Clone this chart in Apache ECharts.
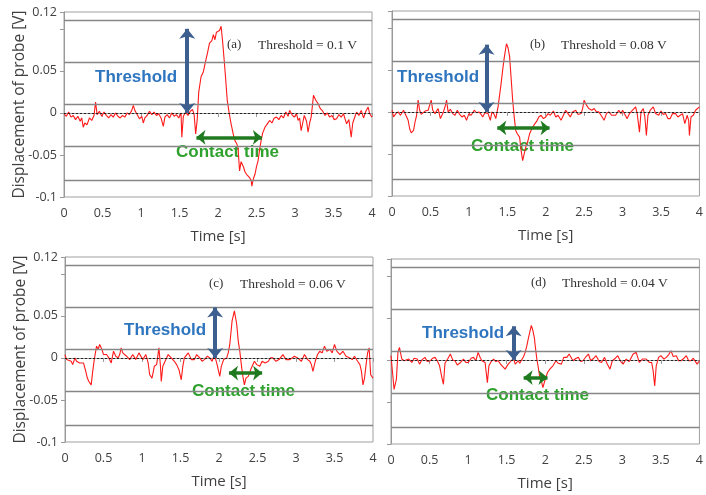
<!DOCTYPE html>
<html>
<head>
<meta charset="utf-8">
<title>Probe displacement</title>
<script src="https://cdn.jsdelivr.net/npm/echarts@6/dist/echarts.min.js"></script>
<style>
    html, body {margin: 0; padding: 0; background: #fff;}
    #chart {width: 706px; height: 495px;}
</style>
</head>
<body>
<div id="chart"></div>
<script>
//----------------------------------------------------------------------------------------------------------------
// 数据：四个面板的探头位移 [时间 s, 位移 V]
var traceA = [
    [0,-0.001],[0.03,-0.004],[0.06,0.001],[0.09,-0.005],[0.12,-0.003],[0.15,-0.008],[0.18,-0.004],[0.21,-0.010],[0.23,-0.006],[0.25,-0.017],
    [0.27,-0.012],[0.30,-0.014],[0.33,-0.006],[0.36,-0.009],[0.39,-0.003],[0.41,0.013],[0.43,-0.002],[0.46,0.002],[0.49,-0.004],[0.52,0.001],
    [0.55,-0.003],[0.58,-0.006],[0.61,-0.002],[0.64,-0.005],[0.67,0.000],[0.70,-0.004],[0.73,-0.006],[0.76,-0.003],[0.79,-0.005],[0.82,0.000],
    [0.85,-0.002],[0.88,0.003],[0.90,0.009],[0.92,0.003],[0.95,-0.002],[0.98,-0.007],[1.01,-0.004],[1.03,-0.012],[1.05,-0.006],[1.08,-0.003],
    [1.11,0.002],[1.14,-0.002],[1.17,0.001],[1.20,-0.003],[1.23,-0.001],[1.26,-0.006],[1.29,-0.016],[1.31,-0.005],[1.34,-0.002],[1.37,-0.006],
    [1.40,0.000],[1.43,-0.004],[1.46,-0.002],[1.49,-0.006],[1.52,0.000],[1.53,-0.029],[1.55,-0.004],[1.58,0.001],[1.61,-0.003],[1.64,0.002],
    [1.67,0.004],[1.69,-0.002],[1.71,-0.025],[1.73,-0.008],[1.75,0.025],[1.78,0.043],[1.81,0.049],[1.84,0.062],[1.86,0.070],[1.89,0.083],
    [1.92,0.086],[1.94,0.093],[1.96,0.087],[1.98,0.096],[2.00,0.094],[2.02,0.098],[2.04,0.103],[2.06,0.085],[2.08,0.063],[2.10,0.040],
    [2.12,0.015],[2.15,-0.003],[2.17,-0.013],[2.20,-0.026],[2.22,-0.033],[2.24,-0.036],[2.26,-0.041],[2.28,-0.069],[2.30,-0.058],[2.33,-0.064],
    [2.35,-0.070],[2.37,-0.073],[2.39,-0.071],[2.41,-0.077],[2.43,-0.080],[2.44,-0.087],[2.46,-0.078],[2.48,-0.073],[2.50,-0.064],[2.52,-0.057],
    [2.54,-0.044],[2.56,-0.033],[2.58,-0.024],[2.61,-0.017],[2.64,-0.013],[2.67,-0.009],[2.70,-0.012],[2.73,-0.006],[2.76,-0.005],[2.79,-0.008],
    [2.82,-0.003],[2.85,-0.006],[2.88,0.001],[2.91,-0.004],[2.93,0.003],[2.96,-0.002],[2.99,-0.005],[3.02,-0.001],[3.04,-0.009],[3.06,-0.006],
    [3.08,-0.021],[3.10,-0.012],[3.12,-0.003],[3.15,-0.010],[3.17,-0.023],[3.19,-0.012],[3.21,-0.005],[3.23,0.012],[3.24,0.021],[3.27,0.015],
    [3.30,0.011],[3.33,0.005],[3.36,0.002],[3.39,-0.003],[3.42,0.000],[3.45,-0.005],[3.48,-0.003],[3.51,-0.008],[3.54,-0.007],[3.57,-0.002],
    [3.60,-0.005],[3.63,-0.001],[3.65,-0.007],[3.67,-0.013],[3.70,-0.008],[3.73,-0.029],[3.75,-0.012],[3.78,-0.004],[3.80,0.001],[3.83,-0.003],
    [3.86,0.003],[3.89,-0.006],[3.92,0.002],[3.95,0.007],[3.97,-0.001],[4.00,-0.005]
];

var traceB = [
    [0,0.002],[0.02,-0.006],[0.05,-0.002],[0.08,0.000],[0.11,-0.004],[0.15,0.002],[0.18,-0.004],[0.21,-0.010],[0.23,-0.020],[0.25,-0.025],
    [0.28,-0.022],[0.30,-0.012],[0.32,-0.004],[0.34,0.014],[0.36,0.002],[0.38,-0.003],[0.40,-0.004],[0.43,0.001],[0.47,0.002],[0.49,0.008],
    [0.51,0.014],[0.53,0.002],[0.56,-0.002],[0.60,0.004],[0.63,-0.008],[0.66,-0.002],[0.69,0.006],[0.71,0.014],[0.73,0.000],[0.76,0.003],
    [0.79,-0.002],[0.82,-0.004],[0.85,0.002],[0.88,-0.003],[0.91,-0.006],[0.94,-0.004],[0.97,-0.010],[1.00,-0.002],[1.03,-0.004],[1.07,0.002],
    [1.10,-0.001],[1.13,0.000],[1.16,-0.003],[1.18,-0.006],[1.21,-0.001],[1.25,-0.002],[1.28,-0.010],[1.30,0.000],[1.33,-0.003],[1.35,-0.008],
    [1.38,0.006],[1.40,0.020],[1.42,0.034],[1.44,0.050],[1.46,0.064],[1.48,0.076],[1.49,0.081],[1.51,0.076],[1.53,0.066],[1.55,0.040],
    [1.57,0.014],[1.59,-0.006],[1.61,-0.022],[1.63,-0.026],[1.66,-0.030],[1.68,-0.046],[1.70,-0.058],[1.72,-0.050],[1.74,-0.042],[1.77,-0.034],
    [1.79,-0.026],[1.81,-0.022],[1.83,-0.018],[1.86,-0.014],[1.89,-0.010],[1.91,-0.006],[1.94,-0.004],[1.97,-0.008],[2.00,-0.006],[2.03,-0.002],
    [2.06,-0.004],[2.10,0.001],[2.13,-0.006],[2.16,-0.004],[2.20,-0.010],[2.23,-0.004],[2.26,0.002],[2.29,-0.002],[2.32,-0.006],[2.35,0.000],
    [2.39,0.002],[2.42,-0.003],[2.46,-0.002],[2.48,0.004],[2.50,0.014],[2.53,0.008],[2.56,0.004],[2.60,0.002],[2.63,0.004],[2.66,0.000],
    [2.69,0.000],[2.72,-0.004],[2.76,-0.010],[2.79,-0.002],[2.82,0.000],[2.86,-0.004],[2.91,-0.004],[2.95,0.002],[2.98,-0.002],[3.00,0.002],
    [3.03,-0.003],[3.06,-0.008],[3.09,-0.002],[3.13,0.002],[3.17,0.006],[3.19,-0.002],[3.22,-0.024],[3.24,0.000],[3.27,0.004],[3.29,-0.006],
    [3.31,-0.028],[3.33,-0.004],[3.36,0.002],[3.40,0.006],[3.43,-0.002],[3.47,-0.004],[3.50,0.001],[3.53,-0.003],[3.56,-0.002],[3.59,-0.008],
    [3.62,-0.008],[3.65,-0.002],[3.69,-0.002],[3.72,-0.006],[3.75,-0.004],[3.78,-0.002],[3.81,-0.014],[3.84,-0.004],[3.86,-0.010],[3.87,-0.028],
    [3.89,-0.006],[3.92,-0.004],[3.95,0.002],[3.97,0.004],[4.00,0.006]
];

var traceC = [
    [0,0.004],[0.02,-0.002],[0.04,-0.004],[0.08,-0.004],[0.10,-0.008],[0.13,0.000],[0.15,-0.004],[0.17,-0.002],[0.19,-0.006],[0.21,-0.008],
    [0.24,-0.006],[0.27,-0.016],[0.29,-0.024],[0.31,-0.028],[0.34,-0.032],[0.36,-0.016],[0.38,-0.002],[0.41,0.014],[0.43,0.010],[0.45,0.016],
    [0.48,0.010],[0.50,0.004],[0.54,0.004],[0.57,0.000],[0.60,-0.006],[0.63,0.008],[0.66,0.002],[0.69,0.000],[0.71,0.004],[0.73,0.012],
    [0.75,0.006],[0.77,0.006],[0.80,0.002],[0.84,-0.002],[0.88,0.004],[0.92,-0.002],[0.96,0.006],[1.01,-0.002],[1.05,0.004],[1.08,-0.006],
    [1.10,-0.020],[1.13,-0.024],[1.16,-0.010],[1.19,-0.008],[1.22,0.012],[1.24,-0.010],[1.25,-0.028],[1.27,-0.010],[1.30,-0.004],[1.34,0.004],
    [1.38,0.000],[1.42,-0.004],[1.45,-0.008],[1.48,-0.014],[1.51,-0.026],[1.53,-0.010],[1.55,0.000],[1.60,0.006],[1.64,-0.002],[1.68,-0.002],
    [1.71,0.004],[1.75,0.000],[1.78,-0.004],[1.81,-0.002],[1.85,0.002],[1.88,0.000],[1.91,-0.004],[1.94,0.004],[1.97,-0.006],[2.01,-0.022],
    [2.03,-0.010],[2.06,-0.002],[2.10,0.000],[2.12,0.006],[2.14,0.016],[2.17,0.044],[2.20,0.056],[2.23,0.040],[2.25,0.020],[2.27,0.008],
    [2.29,-0.008],[2.31,-0.022],[2.33,-0.032],[2.35,-0.024],[2.38,-0.022],[2.42,-0.012],[2.46,-0.004],[2.49,-0.008],[2.53,-0.010],[2.56,-0.004],
    [2.60,-0.006],[2.64,-0.004],[2.67,0.000],[2.70,0.000],[2.74,-0.004],[2.78,-0.002],[2.83,0.004],[2.87,-0.002],[2.92,-0.002],[2.98,0.002],
    [3.02,0.000],[3.07,-0.004],[3.11,0.004],[3.15,-0.002],[3.18,-0.004],[3.20,-0.008],[3.22,-0.016],[3.25,-0.004],[3.28,0.004],[3.31,0.008],
    [3.34,0.006],[3.37,0.014],[3.40,0.008],[3.44,0.010],[3.47,0.006],[3.50,0.016],[3.53,0.008],[3.57,0.004],[3.61,0.008],[3.65,0.002],
    [3.70,0.000],[3.73,-0.002],[3.76,0.002],[3.80,-0.004],[3.83,-0.008],[3.85,-0.016],[3.87,-0.032],[3.89,-0.024],[3.91,-0.008],[3.93,0.006],
    [3.95,0.012],[3.97,-0.020],[4.00,-0.024]
];

var traceD = [
    [0,0.005],[0.02,-0.015],[0.04,-0.035],[0.07,-0.023],[0.09,0.009],[0.11,0.015],[0.14,0.001],[0.17,-0.001],[0.19,-0.003],[0.23,0.001],
    [0.27,-0.003],[0.30,0.002],[0.34,0.001],[0.37,-0.005],[0.40,0.000],[0.44,0.003],[0.47,-0.002],[0.51,-0.001],[0.54,0.002],[0.57,0.003],
    [0.60,-0.001],[0.63,-0.007],[0.66,-0.021],[0.68,-0.029],[0.70,-0.004],[0.74,0.002],[0.77,0.007],[0.80,0.000],[0.83,-0.001],[0.86,-0.006],
    [0.89,-0.004],[0.94,0.001],[0.97,-0.003],[1.00,-0.003],[1.04,0.002],[1.07,0.003],[1.10,-0.001],[1.13,0.009],[1.16,0.002],[1.18,-0.001],
    [1.22,-0.003],[1.25,-0.027],[1.27,-0.007],[1.30,-0.002],[1.33,0.001],[1.36,-0.002],[1.39,-0.001],[1.42,-0.005],[1.44,-0.007],[1.48,-0.011],
    [1.52,-0.005],[1.56,-0.001],[1.59,0.002],[1.61,-0.005],[1.63,-0.003],[1.65,-0.001],[1.67,-0.004],[1.69,-0.003],[1.72,0.004],[1.74,0.009],
    [1.76,0.016],[1.78,0.025],[1.80,0.033],[1.82,0.041],[1.84,0.035],[1.86,0.026],[1.87,0.017],[1.89,0.002],[1.91,-0.009],[1.93,-0.021],
    [1.95,-0.025],[1.97,-0.033],[2.00,-0.023],[2.03,-0.015],[2.06,-0.011],[2.10,-0.007],[2.14,-0.001],[2.17,-0.004],[2.21,-0.005],[2.24,0.003],
    [2.28,0.003],[2.31,0.007],[2.36,-0.001],[2.40,0.002],[2.43,0.003],[2.46,-0.002],[2.49,-0.001],[2.53,0.004],[2.56,0.007],[2.59,-0.001],
    [2.63,0.002],[2.66,0.005],[2.70,-0.002],[2.73,-0.003],[2.77,0.003],[2.80,-0.004],[2.84,-0.011],[2.87,-0.001],[2.91,0.002],[2.94,0.005],
    [2.98,-0.002],[3.01,-0.005],[3.05,0.001],[3.09,-0.002],[3.14,0.007],[3.18,0.009],[3.22,-0.003],[3.26,0.001],[3.31,0.001],[3.35,-0.003],
    [3.38,-0.003],[3.40,-0.013],[3.42,-0.031],[3.44,-0.007],[3.47,0.003],[3.50,0.005],[3.54,0.001],[3.57,0.003],[3.60,0.006],[3.63,0.011],
    [3.66,0.004],[3.70,0.005],[3.73,-0.001],[3.76,-0.001],[3.80,0.002],[3.83,0.005],[3.86,-0.001],[3.89,-0.001],[3.92,0.002],[3.94,0.003],
    [3.97,-0.005],[4.00,-0.001]
];

// 各面板的阈值与箭头位置
var panelTags = ['(a)', '(b)', '(c)', '(d)'];
var thresholds = [0.1, 0.08, 0.06, 0.04];
var thresholdX = [1.6, 1.23, 1.95, 1.59];
var contactStart = [1.72, 1.37, 2.13, 1.72];
var contactEnd = [2.57, 2.05, 2.56, 2.03];
var contactY = [-0.029, -0.019, -0.018, -0.021];

// 背景灰色水平线
var bandLines = [0.106, 0.059, 0.012, -0.035, -0.082];
//----------------------------------------------------------------------------------------------------------------

var traces = [traceA, traceB, traceC, traceD];

// 面板位置（像素）
var grids = [
    {left: 64, top: 12, width: 308, height: 185},
    {left: 392, top: 11, width: 309, height: 185},
    {left: 65, top: 257, width: 308, height: 185},
    {left: 391, top: 259, width: 309, height: 185}
];

// 文字位置（像素）
var tagPos = [[227, 46], [530, 46], [209, 285], [531, 284]];
var thresholdLabelPos = [[95, 79], [397, 79], [124, 332], [422, 335]];
var contactLabelPos = [[176, 154], [471, 148], [192, 393], [486, 397]];

var axisFont = 'Open Sans, Noto Sans, sans-serif';
var textColor = '#404040';

/*
* x 轴：时间
* */
function buildXAxis(i) {
    return {
        type: 'value',
        gridIndex: i,
        min: 0,
        max: 4,
        interval: 0.5,
        name: 'Time [s]',
        nameLocation: 'middle',
        nameGap: 32,
        nameMoveOverlap: false,
        nameTextStyle: {fontFamily: axisFont, fontSize: 15, color: textColor},
        axisLine: {show: true, lineStyle: {color: '#999'}},
        axisTick: {show: true, length: 4, lineStyle: {color: '#999'}},
        axisLabel: {fontFamily: axisFont, fontSize: 12.5, color: textColor, margin: 10},
        splitLine: {show: false}
    };
}

/*
* y 轴：位移
* */
function buildYAxis(i) {
    var showLabel = (i === 0 || i === 2);
    return {
        type: 'value',
        gridIndex: i,
        min: -0.1,
        max: 0.12,
        interval: 0.05,
        name: showLabel ? 'Displacement of probe [V]' : '',
        nameLocation: 'middle',
        nameGap: 36,
        nameMoveOverlap: false,
        nameTextStyle: {fontFamily: axisFont, fontSize: 15.5, color: textColor},
        axisLine: {show: true, lineStyle: {color: '#999'}},
        axisTick: {show: true, length: 4, lineStyle: {color: '#999'}},
        axisLabel: {
            show: showLabel,
            fontFamily: axisFont,
            fontSize: 12.5,
            color: textColor,
            margin: 7,
            formatter: function (v) {
                if (Math.abs(v - 0.1) < 1e-6) return '';
                return String(Math.round(v * 100) / 100);
            }
        },
        splitLine: {show: false}
    };
}

/*
* 每个面板：背景线、曲线、箭头
* */
function buildSeries(i) {
    var list = [];

    // 灰色水平线 + 零点虚线
    var lines = [];
    for (var k = 0; k < bandLines.length; k++) {
        lines.push({yAxis: bandLines[k], lineStyle: {color: '#868686', width: 1.4, type: 'solid'}});
    }
    lines.push({yAxis: 0, lineStyle: {color: '#222', width: 1, type: [2, 2]}});
    list.push({
        type: 'line',
        xAxisIndex: i,
        yAxisIndex: i,
        data: [],
        z: 1,
        silent: true,
        markLine: {silent: true, symbol: 'none', label: {show: false}, data: lines}
    });

    // 红色曲线
    list.push({
        type: 'line',
        xAxisIndex: i,
        yAxisIndex: i,
        data: traces[i],
        z: 2,
        showSymbol: false,
        symbol: 'none',
        lineStyle: {color: '#ff1a1a', width: 1.1}
    });

    // 阈值箭头 + 接触时间箭头
    var blue = '#3d5f8f';
    var green = '#1f7a1f';
    list.push({
        type: 'line',
        xAxisIndex: i,
        yAxisIndex: i,
        data: [],
        z: 3,
        silent: true,
        markLine: {
            silent: true,
            symbol: ['arrow', 'arrow'],
            label: {show: false},
            data: [
                [
                    {coord: [thresholdX[i], 0], symbolSize: [12, 10],
                        lineStyle: {color: blue, width: 4, type: 'solid'}, itemStyle: {color: blue}},
                    {coord: [thresholdX[i], thresholds[i]], symbolSize: [12, 10]}
                ],
                [
                    {coord: [contactStart[i], contactY[i]], symbolSize: [11, 9],
                        lineStyle: {color: green, width: 3.5, type: 'solid'}, itemStyle: {color: green}},
                    {coord: [contactEnd[i], contactY[i]], symbolSize: [11, 9]}
                ]
            ]
        }
    });

    return list;
}

/*
* 文字标注
* */
function buildGraphics() {
    var g = [];
    for (var i = 0; i < 4; i++) {
        g.push({
            type: 'text', left: tagPos[i][0], top: tagPos[i][1] - 8,
            style: {text: panelTags[i], font: '13px "Liberation Serif", serif', fill: '#333'}
        });
        g.push({
            type: 'text', left: tagPos[i][0] + 31, top: tagPos[i][1] - 8,
            style: {text: 'Threshold = ' + thresholds[i] + ' V', font: '13.5px "Liberation Serif", serif', fill: '#333'}
        });
        g.push({
            type: 'text', left: thresholdLabelPos[i][0], top: thresholdLabelPos[i][1] - 10,
            style: {text: 'Threshold', font: 'bold 17px "Liberation Sans", Arial, sans-serif', fill: '#2e75c0'}
        });
        g.push({
            type: 'text', left: contactLabelPos[i][0], top: contactLabelPos[i][1] - 10,
            style: {text: 'Contact time', font: 'bold 17px "Liberation Sans", Arial, sans-serif', fill: '#2ea12e'}
        });
    }
    return g;
}

var chart = echarts.init(document.getElementById('chart'), null, {renderer: 'canvas'});

var grid = [];
var xAxis = [];
var yAxis = [];
var series = [];
for (var i = 0; i < 4; i++) {
    grid.push({
        left: grids[i].left, top: grids[i].top, width: grids[i].width, height: grids[i].height,
        show: true, borderColor: '#a0a0a0', borderWidth: 1, containLabel: false
    });
    xAxis.push(buildXAxis(i));
    yAxis.push(buildYAxis(i));
    series = series.concat(buildSeries(i));
}

var option = {
    backgroundColor: '#fff',
    animation: false,
    grid: grid,
    xAxis: xAxis,
    yAxis: yAxis,
    series: series,
    graphic: buildGraphics()
};
chart.setOption(option);
</script>
</body>
</html>
